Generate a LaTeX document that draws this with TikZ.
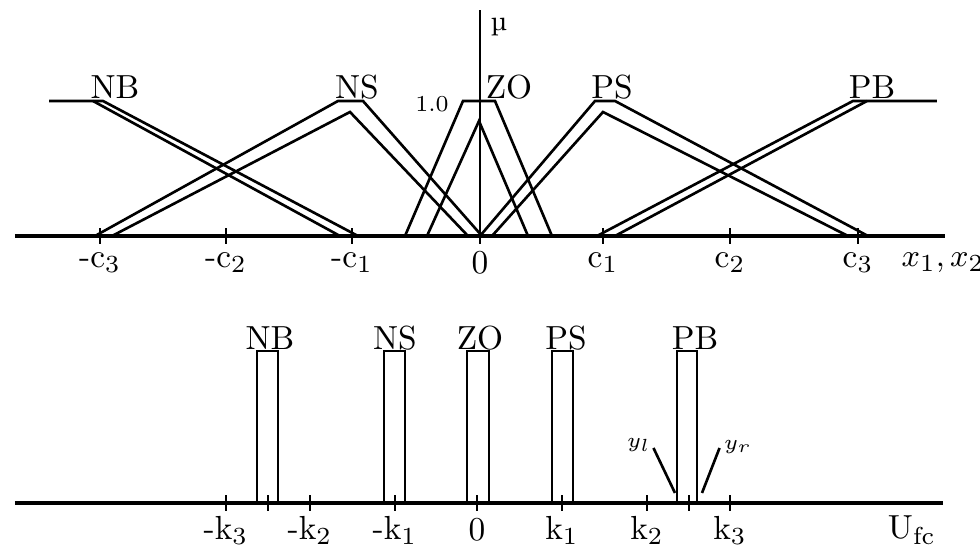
\documentclass[tikz,border=0pt]{standalone}
\usepackage{amsmath,amssymb}
\usetikzlibrary{calc}

\begin{document}
\begin{tikzpicture}[line join=miter,
  mf/.style={line width=.75pt},
  ax/.style={line width=1pt},
  lab/.style={font=\fontsize{9.5}{11}\selectfont,inner sep=0pt},
  tiny/.style={font=\fontsize{6.5}{8}\selectfont,inner sep=0pt}]
 \useasboundingbox (0,0) rectangle (9.8,5.52);
 % input sets x_1, x_2
 \draw[ax] (.15,3.16)--(9.45,3.16);
 \draw[mf] (4.80,3.08)--(4.80,5.42);
 \foreach \x/\t [count=\i] in {1.00/-c$_3$,2.26/-c$_2$,3.52/-c$_1$,4.80/0,6.03/c$_1$,7.30/c$_2$,8.58/c$_3$}{
  \draw[mf] (\x,3.08)--(\x,3.24);
  \node[lab] (c\i) at (\x,2.89) {\t};}
 \draw[mf] (.49,4.51)--(1.03,4.51)--(3.58,3.16);
 \draw[mf] (.93,4.51)--(3.40,3.16);
 \draw[mf] (.95,3.16)--(3.38,4.51)--(3.63,4.51)--(4.82,3.16);
 \draw[mf] (1.12,3.16)--(3.50,4.40)--(4.68,3.16);
 \draw[mf] (4.05,3.16)--(4.63,4.51)--(4.95,4.51)--(5.52,3.16);
 \draw[mf] (4.27,3.16)--(4.79,4.31)--(5.28,3.16);
 \draw[mf] (4.80,3.16)--(5.95,4.51)--(6.15,4.51)--(8.68,3.16);
 \draw[mf] (4.92,3.16)--(6.03,4.40)--(8.48,3.16);
 \draw[mf] (5.97,3.16)--(8.53,4.51)--(9.37,4.51);
 \draw[mf] (6.15,3.16)--(8.67,4.51);
 \foreach \x/\t in {1.15/NB,3.57/NS,5.09/ZO,6.12/PS,8.72/PB}
  \node[lab,anchor=base] (\t) at (\x,4.53) {\t};
 \node[tiny] (one) at (4.32,4.48) {1.0};
 \node[font=\fontsize{8}{9}\selectfont,inner sep=0pt] (mu) at (4.99,5.25) {\textmu};
 \node[lab] (xin) at (9.43,2.89) {$x_1,x_2$};
 % output singletons U_fc
 \draw[ax] (.15,.49)--(9.43,.49);
 \foreach \x in {2.68,6.89}
  \draw[mf] (\x,.41)--(\x,.57);
 \foreach \x/\t [count=\i] in {2.26/-k$_3$,3.10/-k$_2$,3.95/-k$_1$,4.77/0,5.62/k$_1$,6.47/k$_2$,7.30/k$_3$}{
  \draw[mf] (\x,.41)--(\x,.57);
  \node[lab] (k\i) at (\x,.22) {\t};}
 \foreach \a/\b/\m/\t in {2.57/2.78/2.70/NB,3.84/4.05/3.95/NS,4.67/4.89/4.80/ZO,5.52/5.73/5.66/PS,6.77/6.97/6.95/PB}{
  \draw[mf] (\a,.49) rectangle (\b,2.01);
  \node[lab,anchor=base] (u\t) at (\m,2.02) {\t};}
 \node[lab] (ufc) at (9.12,.22) {U$_{\rm fc}$};
 \node[tiny] (yl) at (6.39,1.07) {$y_l$};
 \node[tiny] (yr) at (7.38,1.05) {$y_r$};
 \coordinate (yla) at (6.75,.59);
 \coordinate (yra) at (7.02,.59);
 \draw[mf] (yl.east)++(.02,-.03)--(yla);
 \draw[mf] (yr.west)++(-.04,-.01)--(yra);
\end{tikzpicture}
\end{document}
